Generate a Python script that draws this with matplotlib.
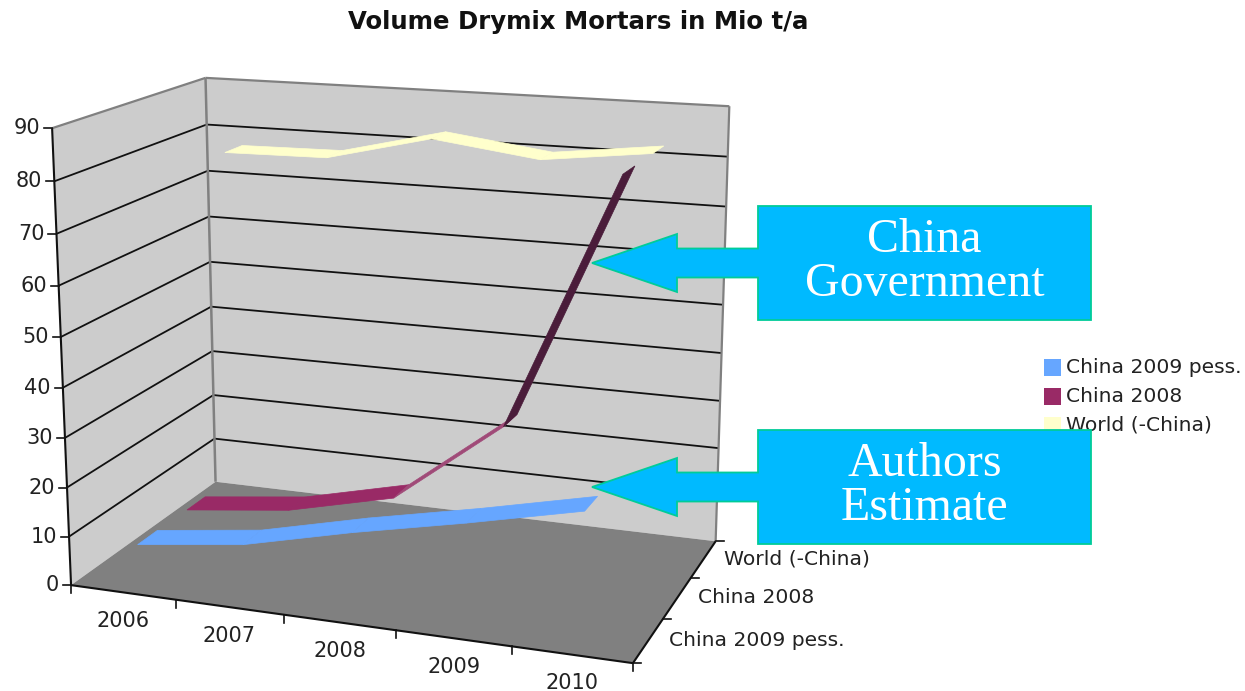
import numpy as np
import matplotlib
matplotlib.use("Agg")
import matplotlib.pyplot as plt
from matplotlib.patches import Polygon, Rectangle

title = "Volume Drymix Mortars in Mio t/a"
years = ["2006", "2007", "2008", "2009", "2010"]
series_names = ["China 2009 pess.", "China 2008", "World (-China)"]
y_ticks = [0, 10, 20, 30, 40, 50, 60, 70, 80, 90]

china_2009 = [7.4, 10.2, 15.4, 20, 25]
china_2008 = [7.2, 9.8, 15, 32, 82.6]
world = [77.3, 77.6, 82.8, 80, 82.6]

series_values = [china_2009, china_2008, world]
series_colors = ["#66a6ff", "#992a66", "#ffffcc"]
# steep segments get a different shade, as on a lit 3d ribbon
segment_colors = [
    ["#66a6ff"] * 4,
    ["#992a66", "#992a66", "#a04a78", "#4a1c3a"],
    ["#ffffcc"] * 4,
]

# anchor points for the camera: (x 0..1, depth 0..1, value) -> pixel
anchors = [
    (0, 0, 0, 70, 585), (1, 0, 0, 632, 662), (0, 1, 0, 216, 481), (1, 1, 0, 716, 542),
    (0, 0, 90, 52, 128), (0, 1, 90, 205, 78), (1, 1, 90, 730, 106),
    (0, 0, 50, 62, 337), (0, 1, 50, 210, 262), (1, 1, 50, 722, 305),
    (0.2, 0, 0, 176, 600), (0.4, 0, 0, 284, 615), (0.6, 0, 0, 396, 631), (0.8, 0, 0, 512, 647),
    (1, 1 / 3, 0, 665, 618), (1, 2 / 3, 0, 690, 578),
]


def fit_camera(points):
    rows = []
    for x, z, v, px, py in points:
        p = [x, z, v / 90, 1]
        u, w = px / 1000, py / 1000
        rows.append(p + [0, 0, 0, 0] + [-u * c for c in p])
        rows.append([0, 0, 0, 0] + p + [-w * c for c in p])
    return np.linalg.svd(np.array(rows))[2][-1].reshape(3, 4)


camera = fit_camera(anchors)


def project(x, z, v):
    h = camera @ np.array([x, z, v / 90, 1])
    return h[0] / h[2] * 1000, h[1] / h[2] * 1000


fig = plt.figure(figsize=(12.45, 6.91), dpi=100)
ax = fig.add_axes([0, 0, 1, 1])
ax.set_xlim(0, 1245)
ax.set_ylim(691, 0)
ax.axis("off")

wall_gray = "#cccccc"
edge_gray = "#808080"
text_color = "#222222"
font_size = 14.6
tick_size = 15


def face(corners, **kw):
    ax.add_patch(Polygon([project(*c) for c in corners], closed=True, **kw))


def line3d(a, b, color="#111111", lw=1.3, zorder=3):
    pa, pb = project(*a), project(*b)
    ax.plot([pa[0], pb[0]], [pa[1], pb[1]], color=color, lw=lw, zorder=zorder,
            solid_capstyle="butt")


# walls and floor
face([(0, 0, 0), (0, 1, 0), (0, 1, 90), (0, 0, 90)], fc=wall_gray, ec="none", zorder=1)
face([(0, 1, 0), (1, 1, 0), (1, 1, 90), (0, 1, 90)], fc=wall_gray, ec="none", zorder=1)
face([(0, 0, 0), (1, 0, 0), (1, 1, 0), (0, 1, 0)], fc=edge_gray, ec="none", zorder=2)

for v in y_ticks[1:-1]:
    line3d((0, 0, v), (0, 1, v))
    line3d((0, 1, v), (1, 1, v))

line3d((0, 0, 90), (0, 1, 90), edge_gray, 1.6)
line3d((0, 1, 90), (1, 1, 90), edge_gray, 1.6)
line3d((0, 1, 0), (0, 1, 90), edge_gray, 1.8)
line3d((1, 1, 0), (1, 1, 90), edge_gray, 1.6)

# axes with ticks
line3d((0, 0, 0), (0, 0, 90), lw=1.5, zorder=6)
line3d((0, 0, 0), (1, 0, 0), lw=1.5, zorder=6)
line3d((1, 0, 0), (1, 1, 0), lw=1.5, zorder=6)

for v in y_ticks:
    px, py = project(0, 0, v)
    ax.plot([px - 8, px], [py, py], color="#111111", lw=1.2, zorder=6)
    ax.text(px - 12, py, str(v), ha="right", va="center", fontsize=tick_size, color=text_color)

for i in range(len(years) + 1):
    px, py = project(i / len(years), 0, 0)
    ax.plot([px, px], [py, py + 8], color="#111111", lw=1.2, zorder=6)

for i, year in enumerate(years):
    px, py = project((i + 0.5) / len(years), 0, 0)
    ax.text(px, py + 28.5, year, ha="center", va="center", fontsize=tick_size, color=text_color)

for i in range(len(series_names) + 1):
    px, py = project(1, i / len(series_names), 0)
    ax.plot([px, px + 8], [py, py], color="#111111", lw=1.2, zorder=6)

for i, name in enumerate(series_names):
    px, py = project(1, (i + 0.5) / len(series_names), 0)
    ax.text(px + 21, py, name, ha="left", va="center", fontsize=font_size, color=text_color)

# ribbons, back to front
ribbon_depth = 0.065
for i in reversed(range(len(series_values))):
    values = series_values[i]
    mid = (i + 0.5) / len(series_values)
    for j in range(len(values) - 1):
        x0 = (j + 0.5) / len(years)
        x1 = (j + 1.5) / len(years)
        face([(x0, mid - ribbon_depth, values[j]), (x1, mid - ribbon_depth, values[j + 1]),
              (x1, mid + ribbon_depth, values[j + 1]), (x0, mid + ribbon_depth, values[j])],
             fc=segment_colors[i][j], ec=segment_colors[i][j], lw=0.5, zorder=4)

# legend
for i, name in enumerate(series_names):
    y = 367 + i * 29
    ax.add_patch(Rectangle((1044, y - 8.5), 17, 17, fc=series_colors[i], ec="none", zorder=7))
    ax.text(1066, y, name, ha="left", va="center", fontsize=font_size, color=text_color, zorder=7)

ax.text(578, 22, title, ha="center", va="center", fontsize=17.6, fontweight="bold",
        color="#111111")


# callouts
def callout(top, lines):
    mid = top + 57
    outline = [(758, top), (1091, top), (1091, top + 114), (758, top + 114), (758, mid + 14.5),
               (677, mid + 14.5), (677, mid + 29), (592, mid), (677, mid - 29), (677, mid - 14.5),
               (758, mid - 14.5)]
    ax.add_patch(Polygon(outline, closed=True, fc="#00baff", ec="#00cc99", lw=1.3,
                         joinstyle="miter", zorder=8))
    ax.text(924.5, mid - 1, lines, ha="center", va="center", fontsize=34.5, color="white",
            family="Liberation Serif", linespacing=0.98, zorder=9)


callout(206, "China\nGovernment")
callout(430, "Authors\nEstimate")

fig.savefig("out.png", dpi=100)
